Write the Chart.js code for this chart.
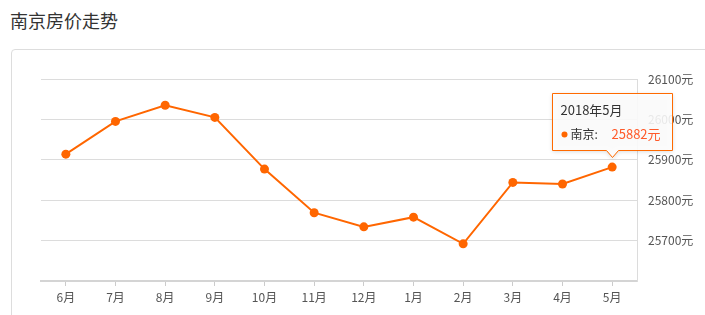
<!DOCTYPE html>
<html>
<head>
<meta charset="utf-8">
<script src="https://cdn.jsdelivr.net/npm/chart.js@4/dist/chart.umd.min.js"></script>
<style>
  html, body { margin: 0; padding: 0; background: #fff; }
  body { width: 705px; height: 315px; position: relative; overflow: hidden;
         font-family: "Noto Sans CJK SC", "Noto Sans", sans-serif; }
  .title { position: absolute; left: 10px; top: 7px; font-size: 18px; color: #333; }
  .card { position: absolute; left: 11px; top: 49px; width: 720px; height: 300px;
          border: 1px solid #ddd; border-radius: 4px; }
  #chart { position: absolute; left: 0; top: 0; }
</style>
</head>
<body>
<div class="title">南京房价走势</div>
<div class="card"></div>
<canvas id="chart" width="705" height="315"></canvas>
<script>
const months = ['6月', '7月', '8月', '9月', '10月', '11月', '12月', '1月', '2月', '3月', '4月', '5月'];
const prices = [25914, 25995, 26035, 26005, 25877, 25769, 25734, 25758, 25692, 25844, 25840, 25882];
const yTicks = [25700, 25800, 25900, 26000, 26100];
const seriesName = '南京';
const tipTitle = '2018年5月';

const FONT = '"Noto Sans CJK SC", "Noto Sans", sans-serif';
const ORANGE = '#ff6600';

// fixed tooltip on the last point, like the original hover state
const fixedTip = {
    id: 'fixedTip',
    afterDraw(chart) {
        const meta = chart.getDatasetMeta(0);
        const idx = prices.length - 1;
        const pt = meta.data[idx];
        const ctx = chart.ctx;
        const w = 120, h = 57;
        const left = Math.round(pt.x) - 59.5;
        const top = Math.round(pt.y) - 73.5;
        const bottom = top + h;
        const cx = Math.round(pt.x) + 0.5;

        ctx.save();
        ctx.shadowColor = 'rgba(0,0,0,0.18)';
        ctx.shadowBlur = 4;
        ctx.shadowOffsetY = 1;
        ctx.beginPath();
        ctx.moveTo(left, top);
        ctx.lineTo(left + w, top);
        ctx.lineTo(left + w, bottom);
        ctx.lineTo(cx + 6, bottom);
        ctx.lineTo(cx, bottom + 7);
        ctx.lineTo(cx - 6, bottom);
        ctx.lineTo(left, bottom);
        ctx.closePath();
        ctx.fillStyle = 'rgba(255,255,255,0.88)';
        ctx.fill();
        ctx.shadowColor = 'transparent';
        ctx.strokeStyle = '#ff6a00';
        ctx.lineWidth = 1;
        ctx.stroke();

        ctx.textBaseline = 'middle';
        ctx.textAlign = 'left';
        ctx.font = '13px ' + FONT;
        ctx.fillStyle = '#333';
        ctx.fillText(tipTitle, left + 8, top + 17);

        ctx.beginPath();
        ctx.arc(left + 12, top + 41, 3, 0, Math.PI * 2);
        ctx.fillStyle = ORANGE;
        ctx.fill();

        ctx.font = '12px ' + FONT;
        ctx.fillStyle = '#333';
        ctx.fillText(seriesName + ':', left + 18, top + 41);
        ctx.font = '13px ' + FONT;
        ctx.fillStyle = '#ff5a2a';
        ctx.fillText(prices[idx] + '元', left + 59, top + 41);
        ctx.restore();
    }
};

new Chart(document.getElementById('chart'), {
    type: 'line',
    data: {
        labels: months,
        datasets: [{
            label: seriesName,
            data: prices,
            borderColor: ORANGE,
            backgroundColor: ORANGE,
            borderWidth: 2,
            pointRadius: 4.5,
            pointBackgroundColor: ORANGE,
            pointBorderWidth: 0,
            fill: false,
            tension: 0
        }]
    },
    options: {
        responsive: false,
        animation: false,
        events: [],
        layout: { padding: { left: 41, top: 79, right: 0, bottom: 0 } },
        plugins: {
            legend: { display: false },
            tooltip: { enabled: false }
        },
        scales: {
            x: {
                offset: true,
                afterFit(scale) { scale.height = 34; },
                grid: {
                    offset: false,
                    drawOnChartArea: false,
                    drawTicks: true,
                    tickLength: 5,
                    color: '#ccc'
                },
                border: { display: true, color: '#d4d4d4', width: 2 },
                ticks: {
                    padding: 4,
                    color: '#555',
                    font: { size: 12, family: FONT }
                }
            },
            y: {
                position: 'right',
                min: 25600,
                max: 26100,
                afterFit(scale) { scale.width = 68; },
                afterBuildTicks(scale) {
                    scale.ticks = [25600].concat(yTicks).map(v => ({ value: v }));
                },
                grid: {
                    color: ctx => ctx.tick && ctx.tick.value === 25600 ? 'rgba(0,0,0,0)' : '#dcdcdc',
                    drawTicks: false
                },
                border: { display: true, color: '#dcdcdc', width: 1 },
                ticks: {
                    padding: 11,
                    color: '#555',
                    font: { size: 12, family: FONT },
                    callback: v => yTicks.includes(v) ? v + '元' : ''
                }
            }
        }
    },
    plugins: [fixedTip]
});
</script>
</body>
</html>
